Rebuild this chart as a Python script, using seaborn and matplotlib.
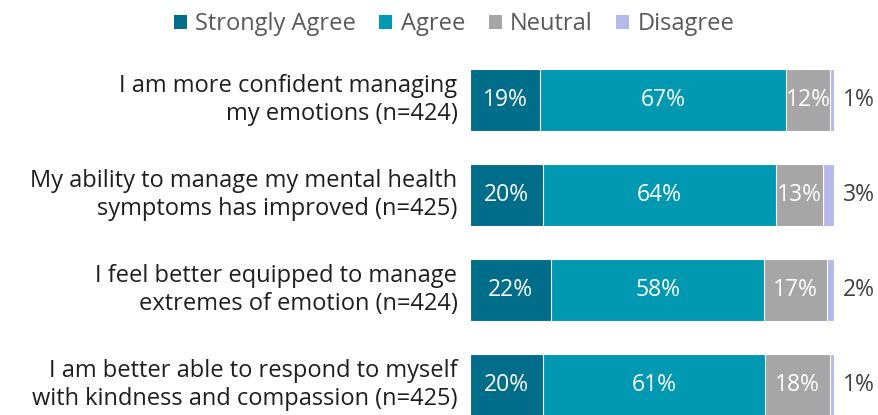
import matplotlib
matplotlib.use("Agg")
import matplotlib.pyplot as plt
import matplotlib.transforms as mtransforms
import seaborn as sns
import pandas as pd
import numpy as np
from matplotlib.patches import Patch

categories = [
    "I am more confident managing\nmy emotions (n=424)",
    "My ability to manage my mental health\nsymptoms has improved (n=425)",
    "I feel better equipped to manage\nextremes of emotion (n=424)",
    "I am better able to respond to myself\nwith kindness and compassion (n=425)",
]
strongly_agree = [19, 20, 22, 20]
agree = [67, 64, 58, 61]
neutral = [12, 13, 17, 18]
disagree = [1, 3, 2, 1]

series_names = ["Strongly Agree", "Agree", "Neutral", "Disagree"]
colors = ["#006D8A", "#0099B1", "#A6A6A6", "#B4B9EA"]

sns.set_theme(style="white")
plt.rcParams["font.family"] = ["Open Sans", "DejaVu Sans"]

series = np.array([strongly_agree, agree, neutral, disagree], dtype=float)
shares = series / series.sum(axis=0) * 100  # bars fill 100%
cum = np.cumsum(shares, axis=0)

fig = plt.figure(figsize=(8.79, 4.15), dpi=100)
ax = fig.add_axes([470 / 879, 0, 1 - 470 / 879, 1])

for k in range(3, -1, -1):
    df = pd.DataFrame({"cat": categories, "val": cum[k]})
    sns.barplot(data=df, x="val", y="cat", orient="h", color=colors[k],
                width=0.66, edgecolor="white", linewidth=0.8, ax=ax,
                saturation=1)

for i in range(len(categories)):
    for k in range(3):
        left = cum[k][i] - shares[k][i]
        ax.text(left + shares[k][i] / 2, i, f"{int(series[k][i])}%", ha="center",
                va="center", color="white", fontsize=16.5)
    ax.text(cum[3][i] + 6.8, i, f"{disagree[i]}%", ha="center", va="center",
            color="#404040", fontsize=16.5)

ax.set_xlim(0, 409 / 3.64)
ax.set_ylim((415 - 100) / 95, -100 / 95)
ax.set_xlabel("")
ax.set_ylabel("")
ax.set_xticks([])
ax.tick_params(axis="y", length=0, pad=9, labelsize=17, labelcolor="#1F1F1F")
offset = mtransforms.ScaledTranslation(0, 5 / 100, fig.dpi_scale_trans)
for lbl in ax.get_yticklabels():
    lbl.set_horizontalalignment("right")
    lbl.set_multialignment("right")
    lbl.set_linespacing(1.2)
    lbl.set_transform(lbl.get_transform() + offset)
for s in ax.spines.values():
    s.set_visible(False)
ax.patch.set_alpha(0)

handles = [Patch(facecolor=c, edgecolor="none") for c in colors]
leg = fig.legend(handles, series_names, loc="upper center", ncol=4,
                 bbox_to_anchor=(454 / 879, 1.022), frameon=False, fontsize=17,
                 handlelength=0.55, handleheight=0.55, handletextpad=0.35,
                 columnspacing=1.0, labelcolor="#595959")

fig.savefig("out.png", dpi=100)
